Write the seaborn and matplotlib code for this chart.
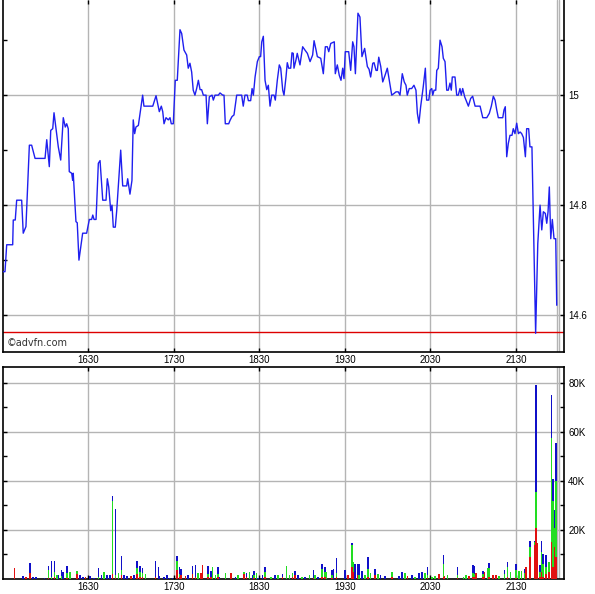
import matplotlib
matplotlib.use("Agg")
import matplotlib.pyplot as plt
import numpy as np
import pandas as pd
import seaborn as sns
from matplotlib.ticker import FixedLocator

# ---------------- data ----------------
# minutes after 15:30 (GMT) and price
price_min = [0.0, 1.4, 2.6, 6.8, 7.2, 8.6, 9.6, 13.1, 14.2, 16.1, 18.5, 20.1, 22.5, 29.5, 30.7,
             32.5, 33.5, 34.9, 35.8, 38.8, 40.5, 42.3, 43.7, 44.7, 45.8, 46.5, 48.2, 48.9, 49.3,
             51.2, 52.1, 53.3, 55.9, 58.7, 60.6, 62.2, 63.0, 63.9, 65.3, 66.9, 68.1, 70.0, 72.3,
             73.2, 74.2, 75.6, 76.5, 77.4, 78.8, 79.8, 82.6, 84.0, 86.8, 87.5, 89.1, 90.5, 91.4,
             92.4, 93.3, 95.0, 95.7, 98.0, 98.9, 105.1, 107.4, 109.7, 111.1, 112.1, 113.0, 114.4,
             116.0, 117.2, 118.1, 119.5, 120.9, 122.3, 124.2, 125.4, 127.0, 128.9, 130.0, 131.2,
             132.4, 133.5, 134.7, 135.9, 137.1, 138.3, 139.4, 140.6, 142.5, 143.4, 144.8, 146.7,
             147.6, 148.8, 151.1, 152.3, 154.2, 155.1, 156.0, 158.4, 159.3, 160.7, 162.1, 164.0,
             167.5, 168.6, 169.8, 171.4, 172.2, 173.8, 174.8, 175.7, 176.9, 178.5, 179.9, 180.8,
             181.6, 182.7, 183.9, 185.1, 186.2, 187.4, 188.6, 190.2, 191.1, 192.5, 193.9, 194.9,
             196.3, 197.2, 198.6, 199.5, 200.5, 201.9, 202.8, 203.7, 204.2, 205.6, 206.5, 208.4,
             210.3, 211.9, 213.6, 215.5, 217.3, 218.3, 219.7, 220.6, 223.0, 224.8, 226.2, 227.6,
             228.6, 230.0, 232.5, 233.2, 234.6, 236.0, 237.2, 238.4, 239.3, 240.2, 242.6, 244.0,
             245.4, 246.3, 247.3, 249.1, 250.5, 251.9, 253.8, 255.7, 256.9, 258.0, 259.5, 260.4,
             261.8, 262.7, 263.7, 265.1, 266.5, 268.1, 269.7, 271.1, 272.8, 274.4, 275.8, 277.4,
             278.6, 280.2, 281.6, 282.8, 283.7, 285.1, 286.8, 288.4, 289.8, 290.8, 291.9, 293.1,
             294.9, 296.4, 297.3, 298.8, 299.7, 300.9, 301.6, 302.5, 303.7, 304.4, 305.5, 306.7,
             308.1, 309.0, 310.2, 311.4, 312.5, 313.7, 314.6, 315.3, 317.2, 318.4, 319.5, 320.7,
             321.6, 322.6, 324.0, 325.4, 326.6, 328.2, 329.6, 331.3, 334.8, 336.7, 339.5, 341.3,
             342.7, 344.1, 345.3, 346.5, 347.6, 350.7, 351.6, 352.5, 353.5, 354.6, 355.8, 357.2,
             358.1, 359.3, 360.5, 361.7, 362.9, 364.0, 365.2, 366.6, 367.5, 368.9, 369.8, 371.2,
             373.8, 375.3, 376.9, 378.1, 379.2, 380.6, 381.6, 382.5, 383.4, 384.4, 385.5, 386.7,
             387.9, 388.6]
price_val = [14.679, 14.679, 14.728, 14.728, 14.773, 14.773, 14.809, 14.809, 14.749, 14.761, 14.909,
             14.909, 14.885, 14.885, 14.919, 14.870, 14.936, 14.939, 14.968, 14.906, 14.882, 14.959,
             14.942, 14.948, 14.939, 14.861, 14.858, 14.845, 14.858, 14.770, 14.768, 14.700, 14.749,
             14.749, 14.774, 14.774, 14.782, 14.774, 14.774, 14.876, 14.881, 14.809, 14.809, 14.848,
             14.833, 14.790, 14.800, 14.760, 14.760, 14.790, 14.900, 14.835, 14.835, 14.848, 14.820,
             14.845, 14.955, 14.930, 14.942, 14.945, 14.958, 15.000, 14.980, 14.980, 14.999, 14.970,
             14.980, 14.970, 14.948, 14.959, 14.955, 14.959, 14.948, 14.948, 15.027, 15.027, 15.119,
             15.112, 15.082, 15.073, 15.049, 15.058, 15.042, 15.009, 15.000, 15.012, 15.027, 15.010,
             15.010, 15.000, 15.000, 14.948, 14.997, 15.000, 14.991, 15.000, 15.000, 15.004, 15.000,
             15.000, 14.948, 14.948, 14.954, 14.961, 14.964, 15.000, 15.000, 14.980, 15.000, 15.000,
             14.990, 14.990, 15.012, 15.000, 15.033, 15.061, 15.070, 15.070, 15.097, 15.107, 15.027,
             15.010, 15.018, 14.980, 15.000, 15.000, 14.991, 15.027, 15.055, 15.049, 15.009, 15.000,
             15.033, 15.059, 15.049, 15.049, 15.077, 15.076, 15.049, 15.064, 15.076, 15.055, 15.088,
             15.082, 15.076, 15.061, 15.073, 15.099, 15.082, 15.070, 15.067, 15.039, 15.088, 15.088,
             15.079, 15.094, 15.097, 15.039, 15.055, 15.036, 15.027, 15.049, 15.030, 15.079, 15.079,
             15.045, 15.097, 15.088, 15.039, 15.149, 15.142, 15.070, 15.085, 15.052, 15.047, 15.033,
             15.058, 15.059, 15.045, 15.045, 15.069, 15.052, 15.024, 15.036, 15.049, 15.027, 15.000,
             15.003, 15.006, 15.006, 15.000, 15.039, 15.024, 15.018, 15.000, 15.012, 15.012, 15.018,
             15.009, 14.967, 14.949, 14.979, 15.015, 15.049, 14.991, 14.991, 15.009, 15.012, 15.000,
             15.009, 15.009, 15.045, 15.049, 15.100, 15.088, 15.067, 15.061, 15.009, 15.009, 15.022,
             15.009, 15.033, 15.033, 15.000, 15.000, 15.012, 15.000, 15.012, 14.997, 14.988, 14.980,
             14.994, 14.998, 14.980, 14.980, 14.959, 14.959, 14.967, 14.980, 14.998, 14.991, 14.973,
             14.959, 14.959, 14.973, 14.979, 14.888, 14.912, 14.927, 14.927, 14.939, 14.930, 14.949,
             14.930, 14.933, 14.930, 14.923, 14.888, 14.939, 14.939, 14.906, 14.906, 14.567, 14.730,
             14.800, 14.755, 14.788, 14.785, 14.767, 14.788, 14.833, 14.739, 14.774, 14.739, 14.739,
             14.618]
prev_close = 14.569

# volume per minute (thousands of shares), split by colour
vol_min = [8, 14, 16, 19, 21, 23, 29, 32, 34, 36, 38, 39, 41, 42, 45, 47, 52, 54, 56, 58, 61, 64, 67,
           69, 71, 73, 75, 77, 79, 81, 83, 85, 87, 90, 92, 94, 96, 98, 100, 107, 109, 110, 113, 115,
           117, 119, 122, 124, 125, 128, 130, 133, 135, 137, 139, 140, 144, 146, 147, 149, 151, 152,
           156, 160, 163, 165, 169, 171, 173, 175, 176, 178, 179, 182, 184, 188, 191, 193, 196, 199,
           201, 203, 205, 207, 210, 212, 215, 218, 219, 221, 224, 226, 227, 231, 232, 234, 240, 242,
           245, 246, 247, 249, 250, 252, 254, 256, 258, 261, 263, 265, 268, 273, 278, 280, 282, 284,
           287, 289, 292, 294, 296, 298, 301, 303, 306, 309, 310, 312, 319, 323, 325, 327, 330, 331,
           332, 337, 338, 340, 341, 344, 346, 348, 352, 354, 356, 360, 362, 364, 366, 367, 370, 373,
           374, 375, 377, 378, 379, 381, 383, 385, 386, 387, 388]
vol_red = [4.5, 0, 1.0, 2.5, 0, 0, 0, 0.5, 0, 1.0, 0, 0, 0, 0, 0.5, 0, 2.0, 0, 0, 1.0, 0, 0, 0,
           0, 0, 0, 0, 2.0, 0.5, 0, 1.5, 0, 0, 1.2, 0, 2.0, 1.0, 1.0, 0, 1.0, 0, 0, 0, 0,
           0, 0, 3.5, 1.0, 1.5, 1.2, 0, 2.0, 1.0, 0, 2.4, 5.7, 1.0, 1.0, 0, 0, 1.0, 0,
           0, 2.4, 0, 0, 2.0, 1.0, 0, 0, 0.5, 0, 0, 0, 1.0, 0, 0, 0, 1.0, 0,
           0, 1.0, 1.5, 0, 0, 0, 0, 0.5, 0, 0, 1.0, 1.0, 0, 0.5, 0, 1.0, 0, 1.5,
           5.0, 3.0, 0, 1.5, 0, 0, 0, 1.0, 0, 1.5, 0, 0, 0, 1.0, 0, 0, 0, 1.2,
           0, 0, 0, 0, 0, 0.5, 0, 0, 2.0, 1.0, 1.2, 0, 0.5, 0, 0, 1.2, 1.0, 1.0,
           2.4, 1.0, 2.7, 0, 1.0, 1.8, 1.8, 0, 0, 1.0, 0, 0.5, 0, 0, 0, 4.8, 9.0, 14.0,
           21.0, 14.5, 1.0, 3.0, 1.0, 2.0, 3.0, 15.0, 5.0, 13.0, 9.0]
vol_green = [0, 0, 0, 0, 0, 0, 0, 3.0, 1.0, 2.0, 1.5, 0, 1.3, 0, 2.0, 3.0, 1.4, 0, 0, 0, 0, 0, 1.0,
             0, 2.7, 0, 0, 30.0, 1.0, 2.5, 2.0, 0, 0, 0, 0, 2.5, 2.0, 1.5, 2.0, 0, 0, 0, 0, 0,
             0, 0, 4.0, 1.0, 0, 0, 0, 0, 0, 2.4, 0, 0, 1.0, 0, 4.8, 1.5, 1.0, 0,
             2.4, 0, 0, 1.5, 1.0, 0, 2.8, 0, 1.0, 2.5, 0, 0, 1.8, 1.0, 0, 1.5, 0, 5.2,
             1.8, 1.5, 0, 0, 0.8, 0, 1.5, 0, 1.5, 0, 3.0, 2.0, 3.0, 1.0, 0, 1.5, 0, 0,
             8.8, 4.0, 0, 0, 1.5, 0, 1.8, 3.0, 2.5, 0, 2.0, 0, 0, 2.0, 0, 0, 2.4, 0,
             0, 1.0, 0, 0, 2.4, 1.0, 1.0, 1.2, 0, 5.0, 0, 1.5, 1.0, 1.0, 1.5, 0, 1.5, 1.0,
             0, 1.0, 0, 4.5, 3.5, 0, 0, 1.2, 2.0, 4.0, 2.7, 3.0, 3.3, 3.4, 2.5, 0, 4.0, 1.0,
             14.6, 0, 2.0, 8.0, 5.0, 3.0, 4.0, 42.5, 27.0, 8.0, 31.0]
vol_blue = [0, 1.2, 0, 4.0, 1.0, 1.0, 0.5, 1.7, 6.2, 4.5, 0, 1.5, 2.5, 3.0, 2.9, 0, 0, 1.5, 1.0, 0, 1.2, 0.5, 3.6,
            1.5, 0, 1.8, 1.5, 1.9, 27.1, 0, 5.9, 1.5, 1.2, 0, 1.5, 3.0, 2.2, 2.0, 0, 6.5, 4.8, 1.2, 1.0, 1.5,
            0.5, 0.5, 2.0, 2.8, 2.5, 0, 1.8, 3.2, 4.7, 0, 0, 0, 3.4, 2.4, 0, 0, 2.8, 1.0,
            0, 0, 1.0, 0, 0, 1.4, 0, 1.5, 1.9, 0, 0.5, 1.6, 2.0, 0, 1.5, 0, 1.0, 0,
            0, 0, 1.9, 1.5, 0, 1.0, 0, 3.3, 0, 0.8, 2.1, 1.8, 0, 2.3, 4.0, 6.0, 3.5, 0,
            1.0, 0, 6.0, 4.5, 4.5, 3.2, 0, 5.0, 0, 2.5, 0, 1.7, 1.2, 0, 1.2, 3.0, 0, 0,
            1.5, 0, 2.4, 2.8, 0, 3.2, 0, 0, 0, 3.8, 0, 0, 3.2, 0, 0, 0, 3.2, 3.2,
            0, 1.4, 0, 0, 2.0, 0, 0, 0, 1.5, 2.0, 0, 2.6, 0, 0, 1.5, 0, 2.5, 0.5,
            43.6, 0, 2.7, 4.5, 4.0, 4.8, 0, 17.5, 9.0, 7.0, 15.5]

hour_ticks = [60, 120, 180, 240, 300, 360]
hour_labels = ["1630", "1730", "1830", "1930", "2030", "2130"]
price_ticks = [14.6, 14.8, 15.0]
price_labels = ["14.6", "14.8", "15"]
vol_ticks = [20, 40, 60, 80]
vol_labels = ["20K", "40K", "60K", "80K"]
close_marks = [388.6, 390.0]

# ---------------- style ----------------
sns.set_theme(style="white")
plt.rcParams["font.family"] = ["Liberation Sans", "DejaVu Sans"]

GRID = "#b4b4b4"
fig = plt.figure(figsize=(5.95, 5.94), dpi=100)
ax1 = fig.add_axes([3 / 595, 242 / 594, 561 / 595, 352 / 594])
ax2 = fig.add_axes([3 / 595, 15 / 594, 561 / 595, 212 / 594])

xlim = (0, 393.7)

for ax in (ax1, ax2):
    ax.set_facecolor("white")
    for s in ax.spines.values():
        s.set_color("black")
        s.set_linewidth(1.2)
    ax.set_xlim(*xlim)
    ax.xaxis.set_major_locator(FixedLocator(hour_ticks))
    ax.set_xticklabels(hour_labels)
    ax.grid(True, which="major", color=GRID, linewidth=1.0)
    ax.set_axisbelow(True)
    ax.yaxis.tick_right()
    ax.tick_params(axis="both", which="both", direction="in", colors="black",
                   labelsize=7, left=True, right=True, top=True, bottom=True,
                   labelleft=False, labelright=True, width=1)
    ax.tick_params(axis="y", which="major", length=3, pad=3)
    ax.tick_params(axis="y", which="minor", length=3)
    ax.tick_params(axis="x", which="major", length=3, pad=2.5)
    for m in close_marks:
        ax.axvline(m, color=GRID, linewidth=1.0, zorder=1)

ax1.spines["top"].set_visible(False)

# price panel
df_price = pd.DataFrame({"minute": price_min, "price": price_val})
sns.lineplot(data=df_price, x="minute", y="price", ax=ax1, color="#1f1fef",
             linewidth=1.0, estimator=None, sort=False, zorder=3)
ax1.axhline(prev_close, color="#dd0000", linewidth=1.0, zorder=2)
ax1.set_ylim(14.533, 15.173)
ax1.yaxis.set_major_locator(FixedLocator(price_ticks))
ax1.set_yticklabels(price_labels)
ax1.yaxis.set_minor_locator(FixedLocator([14.7, 14.9, 15.1]))
ax1.set_xlabel("")
ax1.set_ylabel("")
ax1.text(0.007, 0.026, "\u00a9advfn.com", transform=ax1.transAxes, fontsize=7,
         color="#333333", family="DejaVu Sans", va="center", ha="left")

# volume panel (stacked: red, green, blue)
vm = np.array(vol_min, dtype=float)
vr = np.array(vol_red)
vg = np.array(vol_green)
vb = np.array(vol_blue)
bw = 1.05
ax2.bar(vm, vr, width=bw, color="#e01010", linewidth=0, antialiased=False, zorder=3)
ax2.bar(vm, vg, width=bw, bottom=vr, color="#22dd22", linewidth=0, antialiased=False, zorder=3)
ax2.bar(vm, vb, width=bw, bottom=vr + vg, color="#1010c8", linewidth=0, antialiased=False, zorder=3)
ax2.set_ylim(0, 86.5)
ax2.yaxis.set_major_locator(FixedLocator(vol_ticks))
ax2.set_yticklabels(vol_labels)
ax2.yaxis.set_minor_locator(FixedLocator([10, 30, 50, 70]))

fig.savefig("out.png", dpi=100, facecolor="white")
